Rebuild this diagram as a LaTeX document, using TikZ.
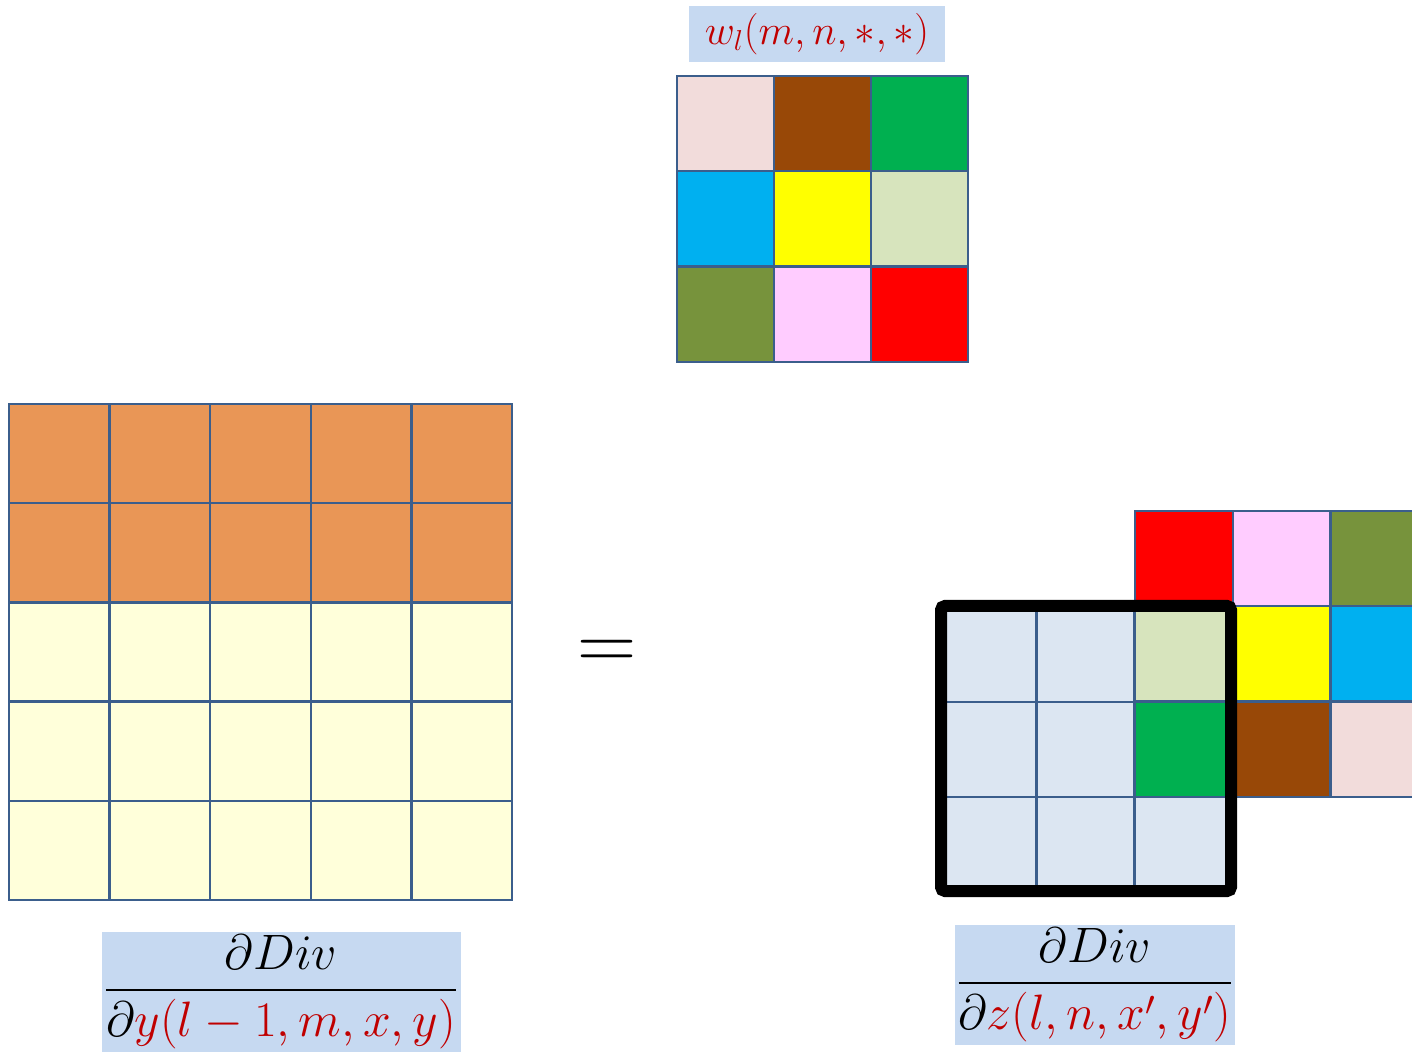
\documentclass[tikz,border=0pt]{standalone}
\usepackage{amsmath}
\definecolor{gridline}{HTML}{3B5E8C}
\definecolor{tagblue}{HTML}{C6D9F1}
\definecolor{mathred}{HTML}{C00000}
\definecolor{outgrad}{HTML}{E99656}
\definecolor{ingrad}{HTML}{FFFFDA}
\definecolor{zgrad}{HTML}{DCE6F2}
\definecolor{wpink}{HTML}{F2DCDB}
\definecolor{wbrown}{HTML}{984807}
\definecolor{wgreen}{HTML}{00B050}
\definecolor{wcyan}{HTML}{00B0F0}
\definecolor{wyellow}{HTML}{FFFF00}
\definecolor{wlime}{HTML}{D7E4BD}
\definecolor{wolive}{HTML}{77933C}
\definecolor{wmagenta}{HTML}{FFCCFF}
\definecolor{wred}{HTML}{FF0000}

\begin{document}
\begin{tikzpicture}[
  x=.5pt, y=-.5pt,
  cell/.style={draw=gridline, line width=1.2pt},
  tag/.style={fill=tagblue, inner sep=0pt, font=\fontsize{23}{27}\selectfont},
  window/.style={draw=black, line width=6pt, rounded corners=2pt}
]
\useasboundingbox (0,0) rectangle (1412,1052);
\clip (0,0) rectangle (1412,1052);

% Gradient w.r.t. y: two computed rows on top of the pending ones.
\foreach \r/\shade in {0/outgrad,1/outgrad,2/ingrad,3/ingrad,4/ingrad}
  \foreach \c in {0,...,4}
    \filldraw[cell, fill=\shade] ({9+100.6*\c},{404+99.2*\r}) rectangle ++(100.6,99.2);

% Filter w_l(m,n,*,*)
\foreach \r/\row in {0/{wpink,wbrown,wgreen},1/{wcyan,wyellow,wlime},2/{wolive,wmagenta,wred}}
  \foreach \shade [count=\c from 0] in \row
    \filldraw[cell, fill=\shade] ({677+97*\c},{76+95.3*\r}) rectangle ++(97,95.3);

% Gradient w.r.t. z, with the flipped filter laid over its corner.
\foreach \r in {0,1,2}
  \foreach \c in {0,1,2}
    \filldraw[cell, fill=zgrad] ({938+98.3*\c},{607+95*\r}) rectangle ++(98.3,95);
\foreach \r/\row in {0/{wred,wmagenta,wolive},1/{wlime,wyellow,wcyan},2/{wgreen,wbrown,wpink}}
  \foreach \shade [count=\c from 0] in \row
    \filldraw[cell, fill=\shade] ({1135+97.7*\c},{511+95.3*\r}) rectangle ++(97.7,95.3);
\draw[window] (941,606) rectangle (1231,891);

\node[font=\fontsize{23}{27}\selectfont, scale=1.65] (equals) at (607,655) {$=$};

\node[tag, minimum width=128pt, minimum height=28pt, text=mathred,
  font=\fontsize{21}{25}\selectfont] (wlabel) at (817,34)
  {$w_l(m,n,{*},{*})$};
\node[tag, minimum width=179.5pt, minimum height=60pt] (dylabel) at (281,992)
  {$\dfrac{\partial Div}{\partial\textcolor{mathred}{y(l-1,m,x,y)}}$};
\node[tag, minimum width=140pt, minimum height=60pt] (dzlabel) at (1095,985)
  {$\dfrac{\partial Div}{\partial\textcolor{mathred}{z(l,n,x',y')}}$};
\end{tikzpicture}
\end{document}
